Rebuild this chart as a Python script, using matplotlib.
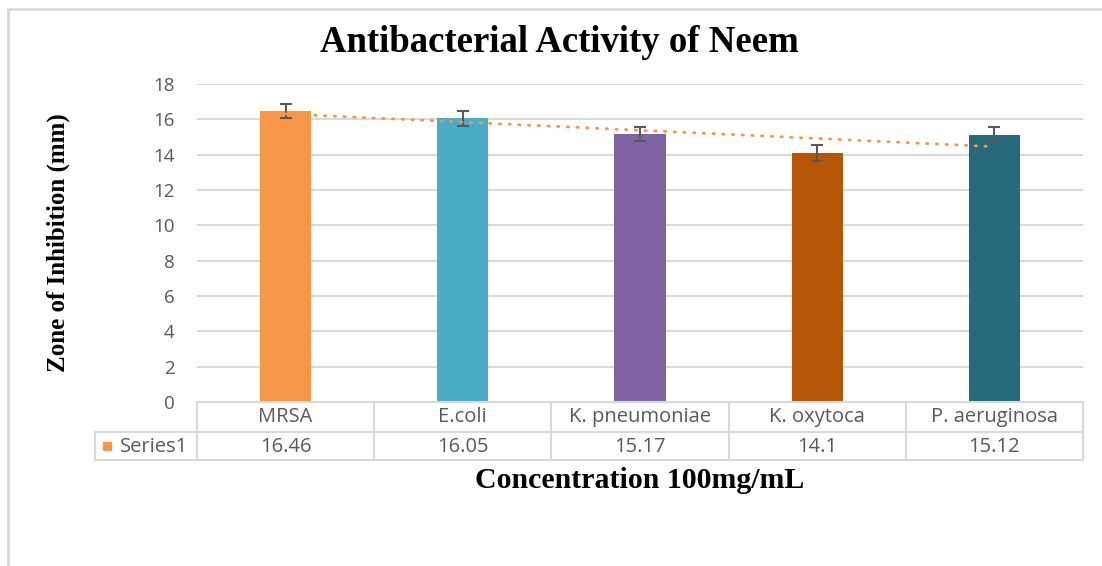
import matplotlib
matplotlib.use('Agg')
import matplotlib.pyplot as plt
from matplotlib.lines import Line2D
from matplotlib.patches import Rectangle
import numpy as np

# data
categories = ['MRSA', 'E.coli', 'K. pneumoniae', 'K. oxytoca', 'P. aeruginosa']
values = [16.46, 16.05, 15.17, 14.1, 15.12]
errors = [0.4, 0.4, 0.42, 0.45, 0.44]
colors = ['#F79646', '#4BACC6', '#8064A2', '#B65708', '#276A7C']
series_name = 'Series1'

W, H = 1102, 566
fig = plt.figure(figsize=(W / 100, H / 100), dpi=100)

# plot area in pixel coords
left, right, top, bottom = 197, 1083, 84, 402
ax = fig.add_axes([left / W, 1 - bottom / H, (right - left) / W, (bottom - top) / H])

x = np.arange(len(categories))
ax.bar(x, values, width=0.29, color=colors, zorder=2)
ax.errorbar(x, values, yerr=errors, fmt='none', ecolor='#595959',
            elinewidth=1.5, capsize=4.3, capthick=1.5, zorder=3)

# linear trendline
k, b = np.polyfit(x, values, 1)
ax.plot(x, k * x + b, color='#F79646', lw=2, linestyle=(0, (0.5, 3)),
        dash_capstyle='round', zorder=4)

ax.set_xlim(-0.5, len(categories) - 0.5)
ax.set_ylim(0, 18)
ax.set_yticks(np.arange(0, 19, 2))
ax.yaxis.grid(True, color='#D9D9D9', lw=1.5, zorder=0)
ax.set_xticks([])
for s in ax.spines.values():
    s.set_visible(False)
ax.tick_params(axis='y', length=0, pad=16, labelsize=13.5, labelcolor='#595959')
for t in ax.get_yticklabels():
    t.set_fontfamily('Open Sans')

# data table under the plot
def px(xp, yp):
    return xp / W, 1 - yp / H

gc = '#D9D9D9'
lw = 1.5
tl, r1, r2, r3 = 95, 402, 432, 460
fs = 14.5
col_edges = [left + (right - left) * i / len(categories) for i in range(len(categories) + 1)]
lines = [
    ([left, right], [r1, r1]),
    ([tl, right], [r2, r2]),
    ([tl, right], [r3, r3]),
    ([tl, tl], [r2, r3]),
]
for ce in col_edges:
    lines.append(([ce, ce], [r1, r3]))
for xs, ys in lines:
    fig.add_artist(Line2D([xx / W for xx in xs], [1 - yy / H for yy in ys],
                          color=gc, lw=lw))

for i, (c, v) in enumerate(zip(categories, values)):
    cx = (col_edges[i] + col_edges[i + 1]) / 2
    fig.text(*px(cx, (r1 + r2) / 2), c, ha='center', va='center',
             fontsize=fs, color='#595959', family='Open Sans')
    fig.text(*px(cx, (r2 + r3) / 2 + 1), f'{v:g}', ha='center', va='center',
             fontsize=fs, color='#595959', family='Open Sans')

fig.add_artist(Rectangle(px(103, 450), 8 / W, 8 / H, color=colors[0]))
fig.text(*px(120, (r2 + r3) / 2 + 1), series_name, ha='left', va='center',
         fontsize=fs, color='#595959', family='Open Sans')

# titles
fig.text(*px(559, 43), 'Antibacterial Activity of Neem', ha='center', va='center',
         fontsize=26.5, fontweight='bold', family='Liberation Serif')
fig.text(*px(640, 481), 'Concentration 100mg/mL', ha='center', va='center',
         fontsize=21.5, fontweight='bold', family='Liberation Serif')
fig.text(*px(58, 243), 'Zone of Inhibition (mm)', ha='center', va='center',
         rotation=90, fontsize=18, fontweight='bold', family='Liberation Serif')

# outer frame (only left and top edges visible)
fig.add_artist(Line2D([8 / W, 8 / W, 1], [0, 1 - 9 / H, 1 - 9 / H], color='#D9D9D9', lw=2))

fig.savefig('out.png', dpi=100)
